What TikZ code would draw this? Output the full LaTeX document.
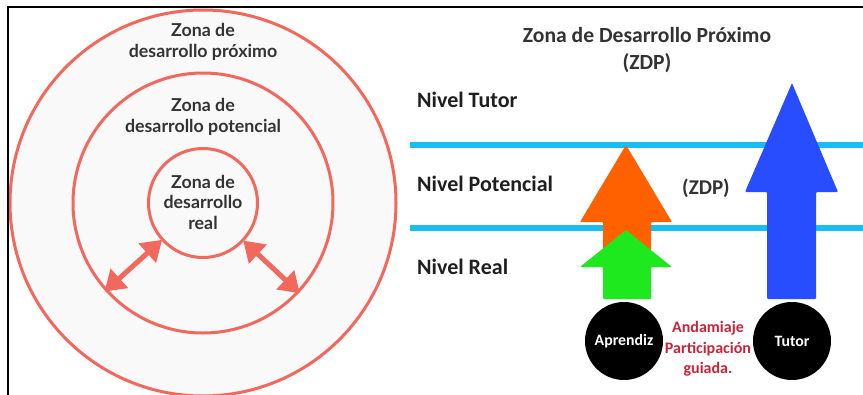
\documentclass[tikz,border=0pt]{standalone}
\usepackage{fontspec}
\setmainfont{Carlito}
\newfontfamily\latofont{Lato}
\usetikzlibrary{arrows.meta}
\definecolor{coral}{RGB}{242,104,92}
\definecolor{zonefill}{RGB}{249,249,249}
\definecolor{zonetext}{RGB}{51,51,51}
\definecolor{skyline}{RGB}{24,190,240}
\definecolor{orangearr}{RGB}{255,96,0}
\definecolor{greenarr}{RGB}{30,232,30}
\definecolor{bluearr}{RGB}{40,76,255}
\definecolor{redtext}{RGB}{200,36,56}
\tikzset{
  zonecircle/.style={circle, draw=coral, line width=3pt, inner sep=0pt},
  zonelabel/.style={font=\latofont\bfseries\fontsize{17.8}{20.5}\selectfont, text=zonetext, align=center, inner sep=0pt},
  levellabel/.style={font=\bfseries\fontsize{22}{24}\selectfont, text=black!88, anchor=west, inner sep=0pt},
  titlelabel/.style={font=\bfseries\fontsize{21.6}{27}\selectfont, text=zonetext, align=center, inner sep=0pt},
  blackdisc/.style={circle, fill=black, minimum size=78pt, inner sep=0pt, text=white, font=\bfseries\fontsize{15.8}{18}\selectfont},
  redlabel/.style={font=\bfseries\fontsize{16}{20.5}\selectfont, text=redtext, align=center, inner sep=0pt},
  dblarrow/.style={draw=coral, line width=5pt, {Triangle[length=20pt,width=25pt]}-{Triangle[length=20pt,width=25pt]}, shorten <=-1pt, shorten >=-1pt},
  bigarrow/.style={line join=round, rounded corners=1pt},
  levelline/.style={draw=skyline, line width=6pt}
}
\begin{document}
\begin{tikzpicture}[x=1pt,y=-1pt]
\useasboundingbox (0,0) rectangle (863,394);
\fill[white] (0,0) rectangle (863,394);
% frame
\draw[black, line width=2pt] (8,395) -- (8,7) -- (863,7);
% left panel
\begin{scope}
\clip (9,8) rectangle (409,394);
\node[zonecircle, fill=zonefill, minimum size=386pt] (outer) at (203,203) {};
\end{scope}
\node[zonecircle, minimum size=260pt] (middle) at (203,203) {};
\node[zonecircle, minimum size=109pt] (inner) at (203,203) {};
\node[zonelabel] (tout) at (203,42) {Zona de\\desarrollo próximo};
\node[zonelabel] (tmid) at (203,117) {Zona de\\desarrollo potencial};
\node[zonelabel] (tin) at (203,202) {Zona de\\desarrollo\\real};
\draw[dblarrow] (inner.222.5) -- (middle.222.5);
\draw[dblarrow] (inner.317.5) -- (middle.317.5);
% right panel
\node[titlelabel] (title) at (647,50) {Zona de Desarrollo Próximo\\(ZDP)};
\node[levellabel] (ntutor) at (417,100) {Nivel Tutor};
\node[levellabel] (npot) at (417,184) {Nivel Potencial};
\node[levellabel] (nreal) at (417,267) {Nivel Real};
\coordinate (l1a) at (410,145);
\coordinate (l1b) at (863,145);
\coordinate (l2a) at (410,228);
\coordinate (l2b) at (863,228);
\draw[levelline] (l1a) -- (l1b);
\draw[levelline] (l2a) -- (l2b);
\node[font=\bfseries\fontsize{21}{24}\selectfont, text=zonetext, inner sep=0pt] (zdp) at (706,188) {(ZDP)};
% arrows
\fill[orangearr, bigarrow] (603,262) -- (603,222) -- (580,222) -- (626,145) -- (672,222) -- (651,222) -- (651,262) -- cycle;
\fill[greenarr, bigarrow] (603,299) -- (603,267) -- (580,267) -- (626,230) -- (672,267) -- (651,267) -- (651,299) -- cycle;
\fill[bluearr, bigarrow] (767,299) -- (767,192) -- (745,192) -- (792,83) -- (838,192) -- (816,192) -- (816,299) -- cycle;
% discs
\node[blackdisc] (aprendiz) at (624,341) {Aprendiz};
\node[blackdisc] (tutor) at (792,341) {Tutor};
\node[redlabel] (andam) at (708,349) {Andamiaje\\Participación\\guiada.};
\end{tikzpicture}
\end{document}
